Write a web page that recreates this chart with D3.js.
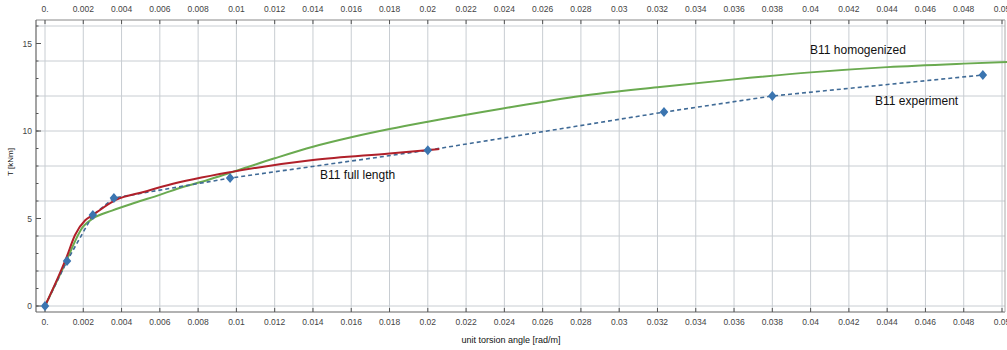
<!DOCTYPE html>
<html><head><meta charset="utf-8">
<script src="https://cdn.jsdelivr.net/npm/d3@7"></script>
<style>body{margin:0;background:#fff}svg{display:block}text{font-family:"Liberation Sans",Arial,sans-serif}</style>
</head><body><svg id="c" width="1007" height="350"></svg>
<script>
const xTicks = d3.range(0, 26).map(i => +(i*0.002).toFixed(3));
const yTicks = [0, 5, 10, 15];
const yGrid = [0, 2, 4, 6, 8, 10, 12, 14, 16];
const yMinor = d3.range(0, 17);
const expX = [0, 0.00115, 0.0025, 0.0036, 0.00967, 0.0200, 0.03234, 0.0380, 0.0490];
const expY = [0, 2.57, 5.2, 6.17, 7.31, 8.9, 11.08, 12.0, 13.2];
const fullX = [0, 0.00113, 0.00157, 0.0021, 0.0025, 0.0037, 0.0052, 0.0064, 0.0097, 0.014, 0.018, 0.0206];
const fullY = [0, 2.8, 4.06, 4.9, 5.2, 6.06, 6.53, 6.9, 7.65, 8.34, 8.72, 8.97];
const homX = [0, 0.001, 0.002, 0.0025, 0.0035, 0.0047, 0.006, 0.0072, 0.0085, 0.0097, 0.012, 0.014, 0.016, 0.018, 0.02, 0.024, 0.028, 0.032, 0.036, 0.04, 0.044, 0.048, 0.0504];
const homY = [0, 2.3, 4.55, 5.0, 5.45, 5.9, 6.35, 6.8, 7.2, 7.62, 8.44, 9.1, 9.64, 10.11, 10.53, 11.3, 12.0, 12.5, 12.95, 13.35, 13.65, 13.85, 13.95];

const svg = d3.select("#c");
const L = 36, R = 1005, T = 20, B = 312;
const x = d3.scaleLinear().domain([0, 0.05]).range([45, 1002]);
const y = d3.scaleLinear().domain([0, 15]).range([306, 43.5]);
const fmt = v => v === 0 ? "0." : String(+v.toFixed(3));

// grid
svg.append("g").selectAll("line").data(xTicks).join("line")
  .attr("x1", d => x(d)).attr("x2", d => x(d)).attr("y1", T).attr("y2", B)
  .attr("stroke", "#c8cdd2").attr("stroke-width", 1);
svg.append("g").selectAll("line").data(yGrid).join("line")
  .attr("x1", L).attr("x2", R).attr("y1", d => y(d)).attr("y2", d => y(d))
  .attr("stroke", "#c8cdd2").attr("stroke-width", 1);

// frame
const fc = "#666";
svg.append("line").attr("x1", L).attr("x2", R).attr("y1", T).attr("y2", T).attr("stroke", "#888");
svg.append("line").attr("x1", L).attr("x2", R).attr("y1", B).attr("y2", B).attr("stroke", fc).attr("stroke-width", 1.2);
svg.append("line").attr("x1", L).attr("x2", L).attr("y1", T).attr("y2", B).attr("stroke", fc).attr("stroke-width", 1.2);
svg.append("line").attr("x1", R).attr("x2", R).attr("y1", T).attr("y2", B).attr("stroke", "#aaa");

// x ticks top & bottom
svg.append("g").selectAll("line").data(xTicks).join("line")
  .attr("x1", d => x(d)).attr("x2", d => x(d)).attr("y1", T).attr("y2", T + 4).attr("stroke", "#555");
svg.append("g").selectAll("line").data(xTicks).join("line")
  .attr("x1", d => x(d)).attr("x2", d => x(d)).attr("y1", B).attr("y2", B - 4).attr("stroke", "#555");
svg.append("g").selectAll("text").data(xTicks).join("text")
  .attr("x", d => x(d)).attr("y", 12).attr("text-anchor", "middle")
  .attr("font-size", 8.5).attr("fill", "#444").text(fmt);
svg.append("g").selectAll("text").data(xTicks).join("text")
  .attr("x", d => x(d)).attr("y", 325).attr("text-anchor", "middle")
  .attr("font-size", 8.5).attr("fill", "#444").text(fmt);

// y ticks
svg.append("g").selectAll("line").data(yMinor).join("line")
  .attr("x1", L).attr("x2", L + 2.5).attr("y1", d => y(d)).attr("y2", d => y(d)).attr("stroke", "#555");
svg.append("g").selectAll("line").data(yTicks).join("line")
  .attr("x1", L).attr("x2", L + 5).attr("y1", d => y(d)).attr("y2", d => y(d)).attr("stroke", "#555");
svg.append("g").selectAll("text").data(yTicks).join("text")
  .attr("x", 32).attr("y", d => y(d) + 3).attr("text-anchor", "end")
  .attr("font-size", 8.5).attr("fill", "#444").text(d => d);

// axis labels
svg.append("text").attr("x", 511).attr("y", 343).attr("text-anchor", "middle")
  .attr("font-size", 9).attr("fill", "#111").text("unit torsion angle [rad/m]");
svg.append("text").attr("transform", "translate(13,162) rotate(-90)").attr("text-anchor", "middle")
  .attr("font-size", 8).attr("fill", "#111").text("T [kNm]");

// curves
const line = d3.line().x(d => x(d[0])).y(d => y(d[1]));
const curve = d3.line().x(d => x(d[0])).y(d => y(d[1])).curve(d3.curveMonotoneX);
svg.append("path").datum(homX.map((v, i) => [v, homY[i]])).attr("d", curve)
  .attr("fill", "none").attr("stroke", "#6aaa50").attr("stroke-width", 2);
svg.append("path").datum(expX.map((v, i) => [v, expY[i]])).attr("d", line)
  .attr("fill", "none").attr("stroke", "#3f6a96").attr("stroke-width", 1.6).attr("stroke-dasharray", "4,3");
svg.append("path").datum(fullX.map((v, i) => [v, fullY[i]])).attr("d", curve)
  .attr("fill", "none").attr("stroke", "#b0202a").attr("stroke-width", 2);
svg.append("g").selectAll("path").data(expX.map((v, i) => [v, expY[i]])).join("path")
  .attr("d", d3.symbol(d3.symbolDiamond, 40))
  .attr("transform", d => `translate(${x(d[0])},${y(d[1])}) scale(1.25,0.85)`)
  .attr("fill", "#3b75b0");

// labels
svg.append("text").attr("x", 810).attr("y", 54).attr("font-size", 12).attr("fill", "#111").text("B11 homogenized");
svg.append("text").attr("x", 875).attr("y", 105).attr("font-size", 12).attr("fill", "#111").text("B11 experiment");
svg.append("text").attr("x", 320).attr("y", 179).attr("font-size", 12).attr("fill", "#111").text("B11 full length");
</script></body></html>
